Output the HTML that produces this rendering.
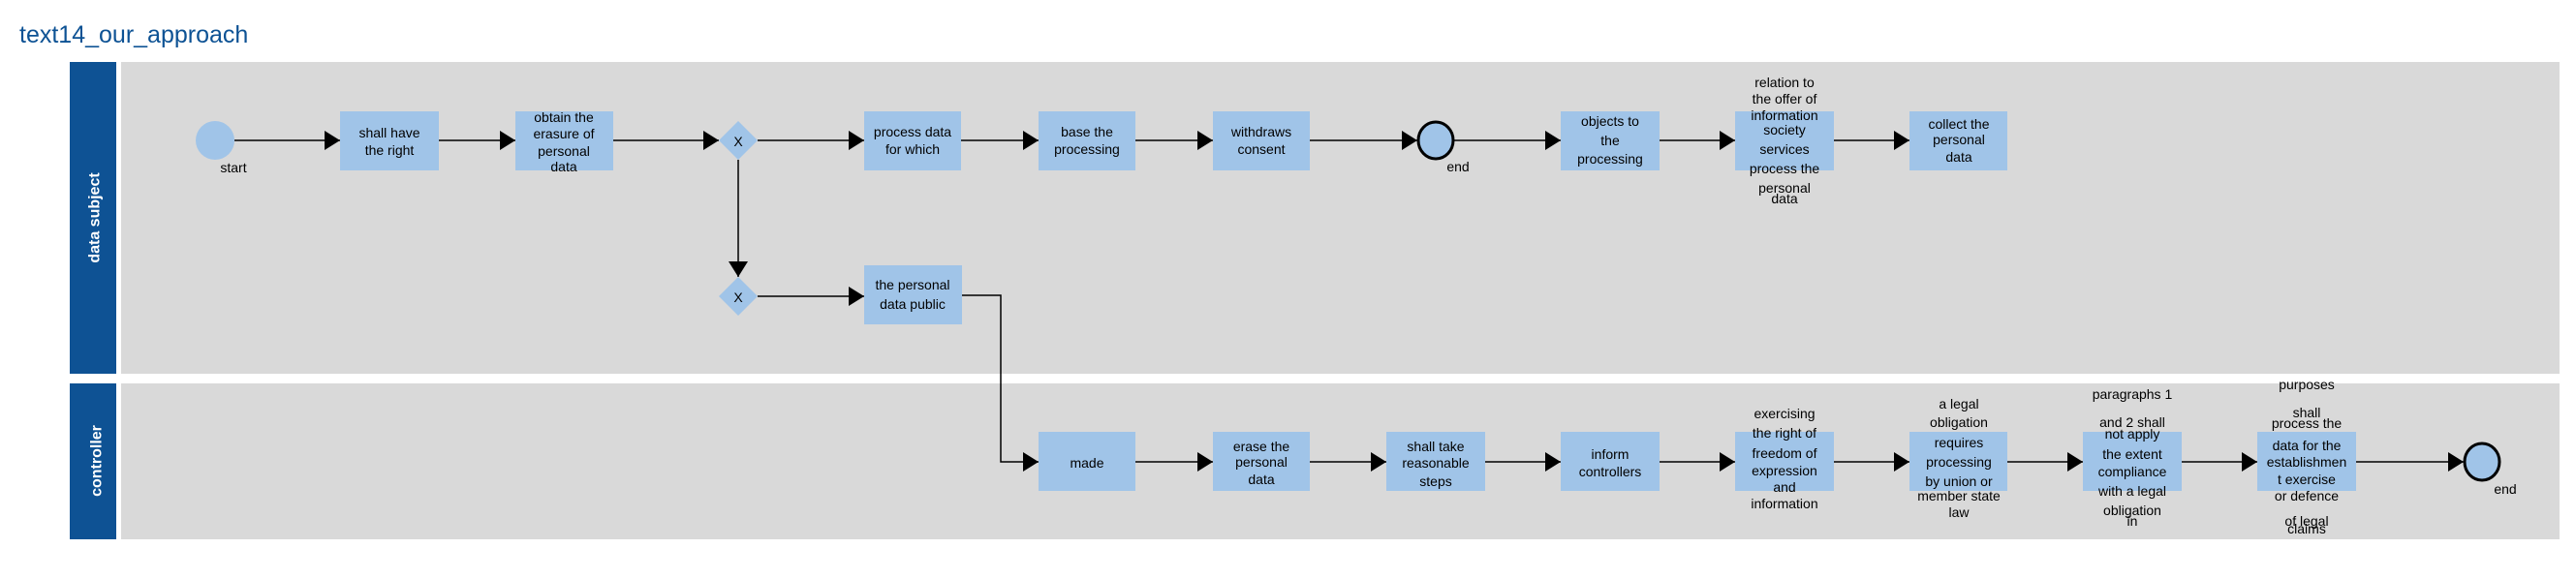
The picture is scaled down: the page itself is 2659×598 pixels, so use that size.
<!DOCTYPE html>
<html><head><meta charset="utf-8"><style>
html,body{margin:0;padding:0;background:#fff;}
svg{display:block;font-family:"Liberation Sans",Arial,sans-serif;}
.t{font-size:14px;fill:#000;text-anchor:middle;dominant-baseline:central;}
</style></head><body>
<svg width="2659" height="598" viewBox="0 0 2659 598" xmlns="http://www.w3.org/2000/svg">
<defs><marker id="a" markerWidth="16" markerHeight="20" refX="16" refY="10" orient="auto" markerUnits="userSpaceOnUse"><path d="M0,0 L16,10 L0,20 Z" fill="#000"/></marker></defs>
<text x="20" y="44" font-size="25" fill="#0d5294">text14_our_approach</text>
<rect x="72" y="64" width="48" height="322" fill="#0e5294"/>
<rect x="125" y="64" width="2517" height="322" fill="#d9d9d9"/>
<rect x="72" y="396" width="48" height="161" fill="#0e5294"/>
<rect x="125" y="396" width="2517" height="161" fill="#d9d9d9"/>
<text transform="translate(98,225) rotate(-90)" font-size="16" fill="#fff" text-anchor="middle" font-weight="bold" dominant-baseline="central">data subject</text>
<text transform="translate(100,476) rotate(-90)" font-size="16" fill="#fff" text-anchor="middle" font-weight="bold" dominant-baseline="central">controller</text>
<g stroke="#000" stroke-width="1.5" fill="none">
<line x1="242" y1="145" x2="351" y2="145" marker-end="url(#a)"/>
<line x1="453" y1="145" x2="532" y2="145" marker-end="url(#a)"/>
<line x1="633" y1="145" x2="742" y2="145" marker-end="url(#a)"/>
<line x1="782" y1="145" x2="892" y2="145" marker-end="url(#a)"/>
<line x1="992" y1="145" x2="1072" y2="145" marker-end="url(#a)"/>
<line x1="1172" y1="145" x2="1252" y2="145" marker-end="url(#a)"/>
<line x1="1352" y1="145" x2="1463" y2="145" marker-end="url(#a)"/>
<line x1="1501" y1="145" x2="1611" y2="145" marker-end="url(#a)"/>
<line x1="1713" y1="145" x2="1791" y2="145" marker-end="url(#a)"/>
<line x1="1893" y1="145" x2="1971" y2="145" marker-end="url(#a)"/>
<line x1="762" y1="165" x2="762" y2="286" marker-end="url(#a)"/>
<line x1="782" y1="306" x2="892" y2="306" marker-end="url(#a)"/>
<polyline points="993,305 1033,305 1033,477 1072,477" marker-end="url(#a)"/>
<line x1="1172" y1="477" x2="1252" y2="477" marker-end="url(#a)"/>
<line x1="1352" y1="477" x2="1431" y2="477" marker-end="url(#a)"/>
<line x1="1533" y1="477" x2="1611" y2="477" marker-end="url(#a)"/>
<line x1="1713" y1="477" x2="1791" y2="477" marker-end="url(#a)"/>
<line x1="1893" y1="477" x2="1971" y2="477" marker-end="url(#a)"/>
<line x1="2072" y1="477" x2="2150" y2="477" marker-end="url(#a)"/>
<line x1="2252" y1="477" x2="2330" y2="477" marker-end="url(#a)"/>
<line x1="2432" y1="477" x2="2543" y2="477" marker-end="url(#a)"/>
</g>
<g fill="#a0c4e8">
<ellipse cx="222" cy="145" rx="20" ry="20"/>
<rect x="351" y="115" width="102" height="61"/>
<rect x="532" y="115" width="101" height="61"/>
<path d="M762,125 L782,145 L762,165 L742,145 Z"/>
<rect x="892" y="115" width="100" height="61"/>
<rect x="1072" y="115" width="100" height="61"/>
<rect x="1252" y="115" width="100" height="61"/>
<rect x="1611" y="115" width="102" height="61"/>
<rect x="1791" y="115" width="102" height="61"/>
<rect x="1971" y="115" width="101" height="61"/>
<path d="M762,286 L782,306 L762,326 L742,306 Z"/>
<rect x="892" y="274" width="101" height="61"/>
<rect x="1072" y="446" width="100" height="61"/>
<rect x="1252" y="446" width="100" height="61"/>
<rect x="1431" y="446" width="102" height="61"/>
<rect x="1611" y="446" width="102" height="61"/>
<rect x="1791" y="446" width="102" height="61"/>
<rect x="1971" y="446" width="101" height="61"/>
<rect x="2150" y="446" width="102" height="61"/>
<rect x="2330" y="446" width="102" height="61"/>
</g>
<ellipse cx="1482" cy="145" rx="18" ry="19" fill="#a0c4e8" stroke="#000" stroke-width="3"/>
<ellipse cx="2562" cy="477" rx="18" ry="19" fill="#a0c4e8" stroke="#000" stroke-width="3"/>
<g class="t">
<text class="t" x="241" y="173">start</text>
<text class="t" x="762" y="146" font-size="26">X</text>
<text class="t" x="762" y="307" font-size="26">X</text>
<text class="t" x="1505" y="172">end</text>
<text class="t" x="2586" y="505">end</text>
<text class="t" x="402" y="137">shall have</text><text class="t" x="402" y="155">the right</text>
<text class="t" x="582" y="121">obtain the</text><text class="t" x="582" y="138">erasure of</text><text class="t" x="582" y="156">personal</text><text class="t" x="582" y="172">data</text>
<text class="t" x="942" y="136">process data</text><text class="t" x="942" y="154">for which</text>
<text class="t" x="1122" y="136">base the</text><text class="t" x="1122" y="154">processing</text>
<text class="t" x="1302" y="136">withdraws</text><text class="t" x="1302" y="154">consent</text>
<text class="t" x="1662" y="125">objects to</text><text class="t" x="1662" y="145">the</text><text class="t" x="1662" y="164">processing</text>
<text class="t" x="1842" y="85">relation to</text><text class="t" x="1842" y="102">the offer of</text><text class="t" x="1842" y="119">information</text><text class="t" x="1842" y="134">society</text><text class="t" x="1842" y="154">services</text><text class="t" x="1842" y="174">process the</text><text class="t" x="1842" y="194">personal</text><text class="t" x="1842" y="205">data</text>
<text class="t" x="2022" y="128">collect the</text><text class="t" x="2022" y="144">personal</text><text class="t" x="2022" y="162">data</text>
<text class="t" x="942" y="294">the personal</text><text class="t" x="942" y="314">data public</text>
<text class="t" x="1122" y="478">made</text>
<text class="t" x="1302" y="461">erase the</text><text class="t" x="1302" y="477">personal</text><text class="t" x="1302" y="495">data</text>
<text class="t" x="1482" y="461">shall take</text><text class="t" x="1482" y="478">reasonable</text><text class="t" x="1482" y="497">steps</text>
<text class="t" x="1662" y="469">inform</text><text class="t" x="1662" y="487">controllers</text>
<text class="t" x="1842" y="427">exercising</text><text class="t" x="1842" y="447">the right of</text><text class="t" x="1842" y="468">freedom of</text><text class="t" x="1842" y="486">expression</text><text class="t" x="1842" y="503">and</text><text class="t" x="1842" y="520">information</text>
<text class="t" x="2022" y="417">a legal</text><text class="t" x="2022" y="436">obligation</text><text class="t" x="2022" y="457">requires</text><text class="t" x="2022" y="477">processing</text><text class="t" x="2022" y="497">by union or</text><text class="t" x="2022" y="512">member state</text><text class="t" x="2022" y="529">law</text>
<text class="t" x="2201" y="407">paragraphs 1</text><text class="t" x="2201" y="436">and 2 shall</text><text class="t" x="2201" y="448">not apply</text><text class="t" x="2201" y="469">the extent</text><text class="t" x="2201" y="487">compliance</text><text class="t" x="2201" y="507">with a legal</text><text class="t" x="2201" y="527">obligation</text><text class="t" x="2201" y="538">in</text>
<text class="t" x="2381" y="397">purposes</text><text class="t" x="2381" y="426">shall</text><text class="t" x="2381" y="437">process the</text><text class="t" x="2381" y="460">data for the</text><text class="t" x="2381" y="477">establishmen</text><text class="t" x="2381" y="495">t exercise</text><text class="t" x="2381" y="512">or defence</text><text class="t" x="2381" y="538">of legal</text><text class="t" x="2381" y="546">claims</text>
</g>
</svg>
</body></html>
